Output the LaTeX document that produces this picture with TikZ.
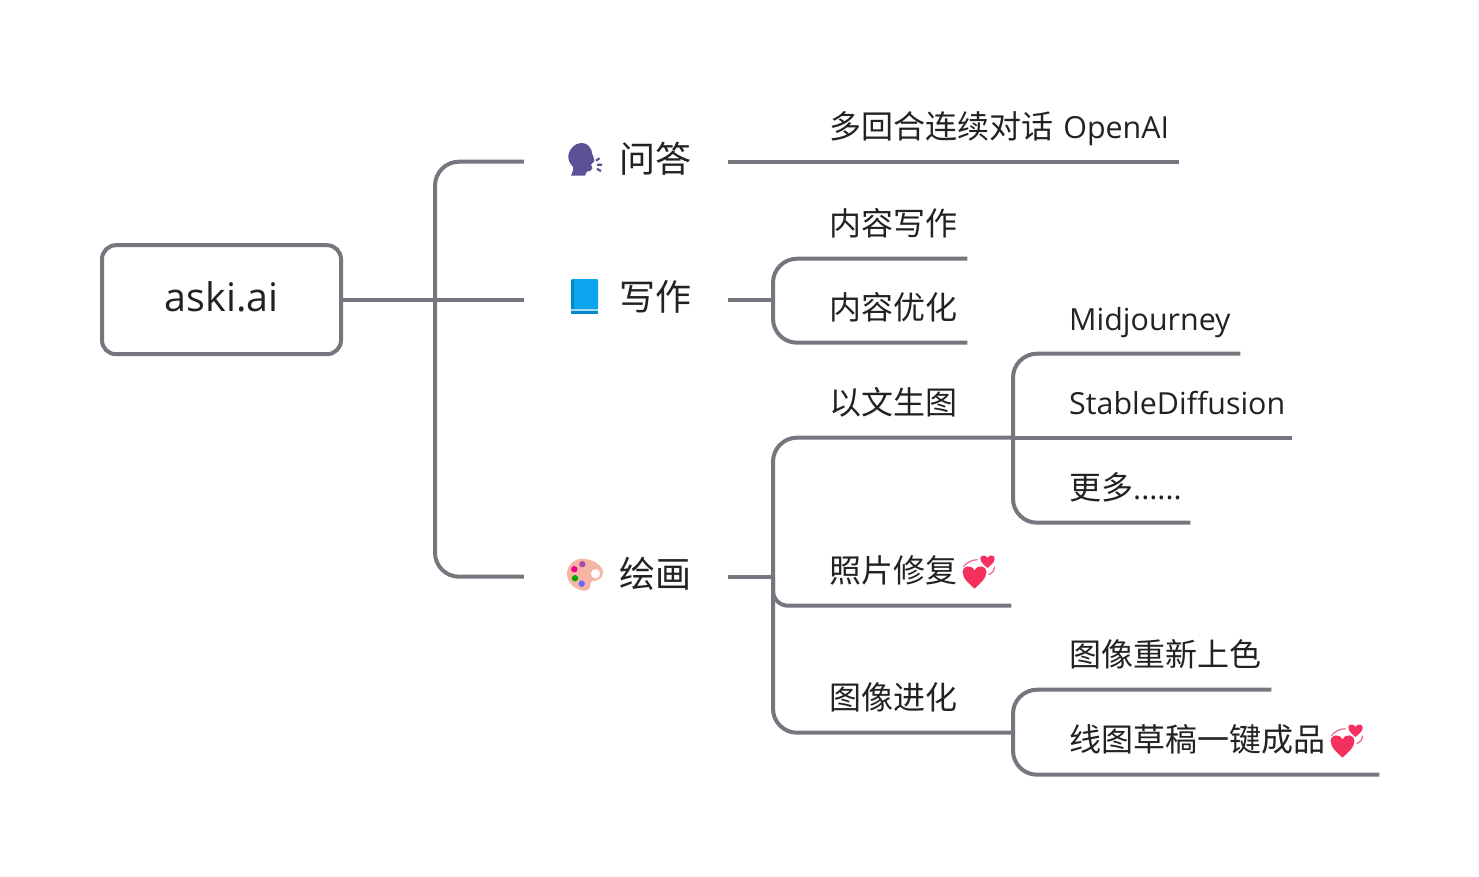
\documentclass[tikz,border=0pt]{standalone}
\usepackage{fontspec}
\setmainfont{Open Sans}[Scale=0.95]
\newfontfamily\cjk{Noto Sans CJK SC}
\newcommand{\zh}[1]{{\cjk #1}}
\definecolor{linegray}{HTML}{77767F}
\definecolor{inkdark}{HTML}{222222}
\definecolor{heartred}{HTML}{F4305F}
\definecolor{heartline}{HTML}{E8648A}
\definecolor{headviolet}{HTML}{5C5096}
\definecolor{bookblue}{HTML}{0AA5EC}
\definecolor{bookspine}{HTML}{0288C8}
\definecolor{booklight}{HTML}{A8DCF2}
\definecolor{palskin}{HTML}{F5B5A5}
\newcommand{\heartshape}{(0,10) .. controls (-4,6.5) and (-10,2) .. (-10,-3.5) .. controls (-10,-8) and (-3,-10) .. (0,-4.5) .. controls (3,-10) and (10,-8) .. (10,-3.5) .. controls (10,2) and (4,6.5) .. (0,10) -- cycle}
\tikzset{
	conn/.style={draw=linegray, line width=4pt, line cap=butt},
	rootbox/.style={draw=linegray, line width=4pt, rounded corners=14pt, minimum width=239pt, minimum height=109pt, inner sep=0pt, text height=30pt, text depth=6.5pt, text=inkdark, font=\fontsize{41.5}{46}\selectfont},
	topic/.style={text width=130pt, inner xsep=37pt, inner ysep=0pt, align=right, text height=24.6pt, text depth=2.6pt, text=inkdark, font=\fontsize{36}{40}\selectfont},
	leaf/.style={anchor=south west, text width=#1pt, inner xsep=0pt, inner ysep=23.5pt, align=left, text height=24pt, text depth=0pt, text=inkdark, font=\fontsize{32}{36}\selectfont},
	pics/hearts/.style={code={
		\fill[heartred, shift={(-4,5.4)}, xscale=1.2, yscale=1.25] \heartshape;
		\fill[heartred, shift={(9,-9.75)}, xscale=0.72, yscale=0.7] \heartshape;
		\draw[heartline, line width=1.2pt] (-15,-4) .. controls (-12,-8) and (-7,-11) .. (-1,-11);
		\draw[heartline, line width=1.2pt] (16,-4) .. controls (16,0) and (13,3) .. (10,4);
	}},
	pics/speaker/.style={code={
		\fill[headviolet] (-16.7,-2.3) .. controls (-17,-10) and (-10,-16.8) .. (-3.3,-16.8) .. controls (3,-16.8) and (7,-11) .. (7.3,-5.7) .. controls (8,-3) and (9.5,-1) .. (9.5,1.5) -- (6,5) -- (7.5,8.5) .. controls (7,11) and (4,12) .. (1.7,12) -- (0,16) -- (-14,16) .. controls (-13,13) and (-11,10) .. (-11.7,7.7) .. controls (-14,5) and (-16.5,2) .. (-16.7,-2.3) -- cycle;
		\draw[headviolet, line width=2.2pt] (11,1) -- (14.5,-1.5) (12,5) -- (17,5) (12,9) -- (16,11.5);
	}},
	pics/book/.style={code={
		\fill[bookblue, rounded corners=1pt] (-14,-18.7) rectangle (13,12);
		\fill[bookspine] (-14,-18) rectangle (-11.5,14);
		\fill[booklight] (-14,11.5) rectangle (13,13.5);
		\fill[bookspine] (-14,13.5) rectangle (13,16);
	}},
	pics/palette/.style={code={
		\fill[palskin] (-18,-1) .. controls (-18,-10) and (-10,-16) .. (-3,-16) .. controls (8,-16) and (18,-9) .. (18,-2) .. controls (18,3) and (13,6.5) .. (7,6.5) .. controls (5,7) and (5.5,10) .. (5,13) .. controls (4,15.5) and (1,16) .. (-1,16) .. controls (-10,15) and (-18,8) .. (-18,-1) -- cycle;
		\fill[white] (10.5,-1) circle (4.6);
		\fill[violet!70!white] (-2.7,-10.5) circle (3.2);
		\fill[magenta] (-10.7,-5.5) circle (3.2);
		\fill[green!65!black] (-10,3.5) circle (3.2);
		\fill[blue!60!white] (-3.3,9) circle (3.2);
	}}
}
\begin{document}
\begin{tikzpicture}[x=1pt, y=-1pt]
	\useasboundingbox (0,-0.7) rectangle (1479,875.3);

	% Central box
	\node (root) [rootbox] at (221.5,299) {aski.ai};

	% First level
	\node (ask) [topic] at (626,161) {\zh{问答}};
	\node (write) [topic] at (626,299) {\zh{写作}};
	\node (paint) [topic] at (626,576) {\zh{绘画}};
	\pic at (585,159) {speaker};
	\pic at (585,297) {book};
	\pic at (585,574) {palette};

	% Leaves of the first two branches
	\node (chat) [leaf=451] at (728,161) {\hspace*{101pt}\zh{多回合连续对话} OpenAI};
	\node (draft) [leaf=194] at (773,258) {\hspace*{56pt}\zh{内容写作}};
	\node (polish) [leaf=194] at (773,342) {\hspace*{56pt}\zh{内容优化}};

	% Leaves of the third branch
	\node (txtimg) [leaf=240] at (773,437) {\hspace*{56pt}\zh{以文生图}};
	\node (repair) [leaf=238] at (773,605) {\hspace*{56pt}\zh{照片修复}};
	\node (evolve) [leaf=240] at (773,732) {\hspace*{56pt}\zh{图像进化}};
	\node (midj) [leaf=227] at (1013,353) {\hspace*{56pt}Midjourney};
	\node (stable) [leaf=279] at (1013,437) {\hspace*{56pt}StableDiffusion};
	\node (more) [leaf=177] at (1013,522) {\hspace*{56pt}\zh{更多}......};
	\node (recolor) [leaf=258] at (1013,689) {\hspace*{56pt}\zh{图像重新上色}};
	\node (sketch) [leaf=366] at (1013,774) {\hspace*{56pt}\zh{线图草稿一键成品}};
	\pic at (978.5,570) {hearts};
	\pic at (1346.5,739) {hearts};

	% Connectors
	\draw[conn] (root.east) -- (write.west);
	\coordinate (trunk) at (435,299);
	\draw[conn, rounded corners=24pt] (ask.west) -| (trunk) |- (paint.west);
	\draw[conn] (ask.east) -- (chat.south east);
	\draw[conn] (write.east) -- (write.east -| draft.south west);
	\draw[conn, rounded corners=24pt] (draft.south east) -- (draft.south west) -- (polish.south west) -- (polish.south east);
	\draw[conn] (paint.east) -- (paint.east -| txtimg.south west);
	\draw[conn, rounded corners=24pt] (txtimg.south east) -- (txtimg.south west) -- (evolve.south west) -- (evolve.south east);
	\draw[conn, rounded corners=15pt] (repair.south east) -- (repair.south west) -- (repair.south west |- paint.east);
	\draw[conn, rounded corners=24pt] (midj.south east) -- (midj.south west) -- (more.south west) -- (more.south east);
	\draw[conn] (stable.south west) -- (stable.south east);
	\draw[conn, rounded corners=24pt] (recolor.south east) -- (recolor.south west) -- (sketch.south west) -- (sketch.south east);
\end{tikzpicture}
\end{document}
